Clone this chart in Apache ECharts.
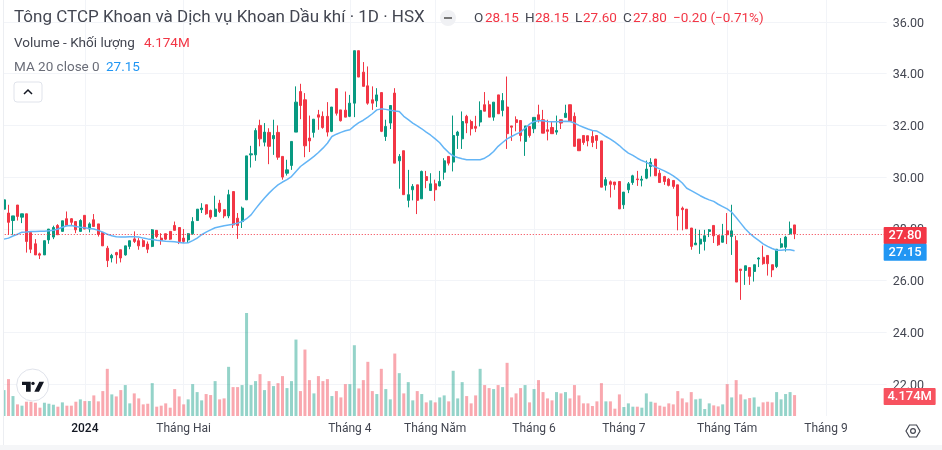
<!DOCTYPE html>
<html>
<head>
<meta charset="utf-8">
<title>PVD</title>
<script src="https://cdn.jsdelivr.net/npm/echarts@6/dist/echarts.min.js"></script>
<style>
  html, body { margin: 0; padding: 0; background: #fff; }
  #main { width: 942px; height: 450px; }
</style>
</head>
<body>
<div id="main"></div>
<script>
// gia doc tu hinh, moi hang 10 phien
var openVals = [
  28.76,28.61,28.32,28.92,28.45,28.58,27.86,27.42,27.03,26.99,
  27.57,27.68,28.13,27.90,28.39,28.39,28.28,27.90,28.52,27.99,
  28.35,28.19,27.86,27.25,26.87,27.08,27.19,26.99,27.32,27.61,
  27.54,27.54,27.41,27.32,27.94,27.64,27.81,27.90,28.13,28.05,
  27.64,27.57,27.81,28.32,28.74,28.93,28.71,28.48,28.99,28.74,
  28.50,29.44,28.41,28.28,29.12,30.86,30.86,32.00,31.35,31.73,
  31.48,31.73,30.80,30.15,30.45,31.74,33.31,32.99,31.51,31.73,
  32.41,32.35,32.35,31.77,33.42,32.60,32.59,32.35,32.86,34.89,
  34.06,33.53,32.99,32.95,33.27,31.57,32.09,33.25,30.63,31.02,
  29.10,29.51,29.70,29.16,30.02,29.48,29.74,29.66,30.19,30.80,
  30.58,31.61,31.48,32.35,32.15,31.96,32.13,32.80,32.80,32.32,
  33.18,32.58,32.71,31.98,32.22,32.19,31.38,31.96,31.87,32.41,
  32.22,31.83,31.92,31.74,32.22,32.31,32.80,32.35,31.47,31.61,
  31.60,31.57,31.61,31.40,29.68,29.82,29.81,29.83,28.93,29.51,
  29.79,29.93,29.88,29.96,30.41,30.70,30.15,30.02,29.92,29.87,
  29.70,28.80,28.76,28.03,27.38,27.41,27.51,27.90,28.13,27.74,
  27.48,27.92,27.70,27.54,26.44,26.39,26.50,26.35,26.83,26.90,
  26.97,26.61,26.54,27.29,27.29,27.81,28.15
];
var closeVals = [
  29.12,28.25,28.50,28.48,28.58,27.51,27.21,26.99,26.98,27.54,
  27.99,28.05,27.77,28.31,28.12,28.25,27.96,28.32,27.99,28.19,
  28.09,27.78,27.34,26.77,26.97,26.99,26.87,27.34,27.54,27.51,
  27.34,27.32,27.21,27.96,27.70,27.55,27.60,27.60,27.94,27.51,
  27.51,27.81,28.28,28.76,28.80,28.58,28.45,28.76,28.67,28.50,
  29.32,28.15,28.13,28.80,30.82,30.90,31.80,31.48,31.74,31.19,
  31.61,30.77,30.00,30.28,31.38,32.90,32.77,31.21,31.40,32.24,
  32.32,31.92,31.74,32.71,32.47,32.18,32.32,32.86,34.89,33.87,
  33.51,32.86,32.86,33.18,31.77,31.96,32.77,30.54,30.80,29.32,
  29.32,29.64,29.10,30.22,29.87,29.74,29.51,29.83,30.63,30.54,
  31.61,31.74,32.15,32.09,31.87,31.89,32.58,32.55,32.32,32.90,
  32.45,32.96,31.68,31.93,32.11,31.61,31.98,31.61,32.31,32.22,
  31.70,31.77,31.68,31.80,32.09,32.47,32.15,31.19,31.02,31.34,
  31.40,31.34,31.42,29.61,29.90,29.72,29.70,28.77,29.42,29.74,
  30.05,29.90,29.92,30.31,30.57,30.05,29.79,29.83,29.68,29.64,
  28.50,28.74,28.00,27.32,27.45,27.60,27.73,27.96,27.73,27.38,
  27.73,27.77,27.92,25.94,26.39,26.57,26.16,26.61,26.87,26.65,
  26.65,26.41,27.21,27.42,27.68,28.00,27.80
];
var lowVals = [
  28.70,27.77,27.77,28.32,28.22,27.08,27.06,26.99,26.83,26.99,
  27.42,27.60,27.77,27.90,28.12,28.12,27.83,27.90,27.99,27.86,
  28.09,27.70,27.34,26.52,26.70,26.65,26.70,26.96,27.21,27.45,
  27.19,27.29,27.06,27.29,27.64,27.38,27.57,27.57,27.94,27.41,
  27.45,27.45,27.77,28.32,28.61,28.54,28.37,28.48,28.61,28.41,
  28.41,28.03,27.61,28.03,29.12,30.37,30.63,31.19,31.19,30.50,
  30.86,30.67,29.90,30.06,30.28,31.74,32.24,30.77,30.97,31.53,
  31.83,31.87,31.57,31.74,32.38,32.15,32.32,32.32,32.32,33.87,
  33.51,32.80,32.60,32.71,31.74,31.40,31.86,30.54,29.55,29.32,
  28.83,29.10,28.57,29.16,29.57,29.48,29.08,29.64,29.90,30.45,
  30.22,31.09,31.09,31.70,31.61,31.74,31.96,32.55,32.32,32.18,
  32.45,32.35,31.09,31.40,31.77,31.38,30.82,31.53,31.70,32.11,
  31.70,31.42,31.68,31.64,31.86,32.31,32.15,31.19,31.02,31.25,
  31.19,31.16,31.09,29.61,29.48,29.21,29.51,28.77,28.77,29.38,
  29.70,29.66,29.64,29.92,30.02,30.05,29.79,29.70,29.64,29.55,
  27.94,27.94,28.00,27.19,27.38,27.03,27.16,27.68,27.45,27.34,
  27.47,27.41,26.99,25.94,25.25,25.83,25.83,25.96,26.52,26.61,
  26.19,26.13,26.48,27.25,27.12,27.77,27.60
];
var highVals = [
  29.15,28.93,28.50,28.92,28.58,28.58,27.86,27.60,27.08,27.54,
  27.99,28.12,28.18,28.31,28.67,28.41,28.28,28.37,28.52,28.25,
  28.57,28.19,27.86,27.34,27.03,27.11,27.19,27.34,27.54,27.90,
  27.64,27.60,27.51,27.99,27.94,27.83,27.81,27.90,28.28,28.05,
  27.99,27.83,28.45,28.76,28.99,28.93,28.74,29.28,29.12,28.74,
  29.51,29.44,28.61,28.86,30.82,31.21,31.89,32.22,32.09,31.89,
  32.22,32.00,30.80,30.67,31.38,33.51,33.61,33.25,32.38,32.24,
  32.60,32.54,32.90,32.71,33.42,32.60,33.31,33.18,34.89,34.89,
  34.45,34.28,33.51,33.44,33.27,32.22,32.77,33.44,30.89,31.02,
  30.28,29.73,29.70,30.25,30.24,30.15,29.90,30.24,30.73,30.80,
  32.38,31.79,32.54,32.41,32.22,32.37,32.93,33.29,32.96,32.90,
  33.18,33.25,33.89,31.98,32.35,32.19,31.98,31.98,32.31,32.80,
  32.60,32.22,32.15,32.38,32.22,32.80,32.80,32.50,31.47,31.61,
  31.60,31.79,31.61,31.40,30.00,29.87,29.81,29.83,29.42,29.81,
  30.09,30.24,30.05,30.64,30.73,30.70,30.28,30.05,29.96,29.87,
  29.70,28.86,28.76,28.03,28.00,27.96,27.96,27.99,28.13,27.74,
  28.19,28.61,28.93,27.73,26.44,26.57,26.50,26.61,26.90,27.35,
  26.97,26.61,27.21,27.64,27.73,28.28,28.15
];
// khoi luong, trieu cp
var volumes = [
  5.17,7.36,3.98,2.32,2.06,2.85,2.85,2.65,1.66,2.65,
  2.45,2.25,1.86,2.72,2.06,2.06,2.85,3.32,2.98,2.98,
  4.11,2.92,4.97,9.41,4.31,3.91,5.17,6.17,2.52,4.51,
  3.51,2.32,2.45,6.56,1.86,2.06,2.52,1.66,5.37,3.91,
  2.32,3.32,6.36,4.77,3.12,4.38,4.18,6.96,3.32,3.51,
  9.81,5.77,5.77,6.17,20.55,6.17,6.96,8.35,5.17,6.96,
  5.97,6.56,7.96,5.57,6.96,15.25,4.97,13.26,7.16,4.51,
  7.96,6.96,7.36,3.98,4.97,3.71,6.36,6.36,14.12,5.50,
  7.16,10.81,4.97,4.38,9.41,5.37,3.32,12.46,8.55,4.51,
  6.76,3.12,4.97,4.38,2.72,3.12,2.72,3.71,4.11,2.92,
  9.02,3.51,6.76,3.98,2.52,4.11,9.41,6.17,5.57,5.37,
  6.17,5.77,10.61,3.71,4.51,5.57,6.17,2.72,5.37,7.16,
  4.77,3.51,3.12,4.77,4.51,4.77,3.51,6.17,4.11,2.52,
  2.52,1.99,2.92,6.56,2.92,2.92,1.46,4.31,1.79,2.52,
  1.86,1.86,1.66,4.51,2.85,2.65,2.06,1.86,2.52,2.32,
  4.97,3.51,2.72,4.77,3.32,3.45,1.39,2.52,2.12,1.92,
  2.32,6.36,3.71,7.16,4.31,3.32,3.58,3.71,1.86,2.72,
  2.85,2.72,4.77,3.32,4.38,4.77,4.174
];
// MA 20
var maValues = [
  27.60,27.64,27.72,27.79,27.87,27.88,27.90,27.90,27.91,27.91,
  27.92,27.94,27.99,28.06,28.12,28.13,28.09,28.06,28.04,28.01,
  27.99,27.94,27.87,27.79,27.73,27.69,27.68,27.68,27.69,27.69,
  27.68,27.64,27.61,27.59,27.56,27.54,27.52,27.51,27.50,27.47,
  27.45,27.46,27.54,27.64,27.77,27.87,27.96,28.04,28.08,28.12,
  28.15,28.18,28.22,28.28,28.39,28.54,28.77,28.99,29.19,29.38,
  29.55,29.70,29.81,29.90,30.02,30.22,30.41,30.54,30.67,30.80,
  30.95,31.12,31.31,31.57,31.66,31.73,31.79,31.83,31.98,32.11,
  32.20,32.32,32.45,32.60,32.64,32.62,32.59,32.56,32.54,32.35,
  32.22,32.09,31.98,31.87,31.74,31.62,31.48,31.33,31.12,30.95,
  30.82,30.76,30.71,30.67,30.67,30.67,30.67,30.73,30.84,30.99,
  31.19,31.34,31.48,31.57,31.66,31.74,31.89,32.05,32.15,32.18,
  32.18,32.15,32.14,32.14,32.15,32.16,32.15,32.09,32.00,31.93,
  31.86,31.80,31.78,31.68,31.57,31.47,31.35,31.22,31.06,30.93,
  30.84,30.73,30.64,30.57,30.48,30.39,30.32,30.24,30.15,30.05,
  29.92,29.77,29.57,29.48,29.38,29.28,29.19,29.12,29.06,28.95,
  28.86,28.77,28.64,28.44,28.22,28.00,27.83,27.68,27.55,27.42,
  27.32,27.24,27.17,27.17,27.19,27.19,27.15
];
// nhan truc thoi gian
var tickIndex = [18, 40, 77, 96, 118, 138, 161, 183];
var tickLabels = ['2024', 'Tháng Hai', 'Tháng 4', 'Tháng Năm', 'Tháng 6', 'Tháng 7', 'Tháng Tám', 'Tháng 9'];
var priceNow = 27.80, maNow = 27.15, volNow = 4.174;

var FONT = 'Roboto, "Liberation Sans", sans-serif';
var UP = '#089981', DOWN = '#F23645', BLUE = '#2196F3', GRID = '#f2f4f8', TEXT = '#434651';
var slotCount = 197;

var categories = [];
for (var i = 0; i < slotCount; i++) categories.push(i);

var candleData = openVals.map(function (o, i) {
    return [o, closeVals[i], lowVals[i], highVals[i]];
});
var volumeData = volumes.map(function (v, i) {
    return {
        value: v,
        itemStyle: { color: closeVals[i] >= openVals[i] ? 'rgba(8,153,129,0.43)' : 'rgba(242,54,69,0.43)' }
    };
});

// nhan gia o mep phai, canh giua nen distance tinh tu tam nhan
function tag(color, width) {
    return {
        show: true, position: 'end', distance: width / 2 - 3, offset: [0, 1.5],
        formatter: '{b}', color: '#fff', fontFamily: FONT, fontSize: 13, fontWeight: 500,
        backgroundColor: color, width: width, height: 17, lineHeight: 17,
        align: 'center', verticalAlign: 'middle',
        borderRadius: 1
    };
}

function txt(x, y, text, fill, size) {
    return {
        type: 'text', z: 100, x: x, y: y,
        style: { text: text, fill: fill, font: (size || 13.5) + 'px ' + FONT, textVerticalAlign: 'middle' }
    };
}

var myChart = echarts.init(document.getElementById('main'));
var option = {
    animation: false,
    backgroundColor: '#fff',
    grid: [
        // 25.85 px moi dong, 36.00 nam o y=22
        { left: 1.75, width: 884.9, top: -29.7, height: 465.3, outerBoundsMode: 'none' },
        { left: 1.75, width: 884.9, top: 0, height: 416, outerBoundsMode: 'none' }
    ],
    xAxis: [
        {
            type: 'category', gridIndex: 0, data: categories,
            axisLine: { show: false }, axisTick: { show: false }, axisLabel: { show: false }, splitLine: { show: false }
        },
        {
            type: 'category', gridIndex: 1, data: categories,
            axisLine: { show: false }, axisTick: { show: false },
            splitLine: {
                show: true, alignWithLabel: true,
                interval: function (idx) { return tickIndex.indexOf(idx) >= 0; },
                lineStyle: { color: GRID, width: 1 }
            },
            axisLabel: {
                margin: 7, color: TEXT, fontFamily: FONT, fontSize: 12,
                interval: function (idx) { return tickIndex.indexOf(idx) >= 0; },
                formatter: function (v, idx) {
                    var k = tickIndex.indexOf(idx);
                    if (k == 0) return '{y|' + tickLabels[k] + '}';
                    return k >= 0 ? tickLabels[k] : '';
                },
                rich: { y: { color: '#131722', fontWeight: 500, fontFamily: FONT, fontSize: 12 } }
            }
        }
    ],
    yAxis: [
        {
            type: 'value', gridIndex: 0, position: 'right', min: 20, max: 38, interval: 2,
            axisLine: { show: false }, axisTick: { show: false },
            splitLine: { show: true, showMinLine: false, showMaxLine: false, lineStyle: { color: GRID, width: 1 } },
            axisLabel: {
                margin: 6,
                showMinLabel: false, showMaxLabel: false,
                formatter: function (v) { return '{p|' + v.toFixed(2) + '}'; },
                rich: { p: { color: TEXT, fontFamily: FONT, fontSize: 12.5, padding: [3, 0, 0, 0] } }
            }
        },
        {
            type: 'value', gridIndex: 1, position: 'right', min: 0, max: 83,
            axisLine: { show: false }, axisTick: { show: false }, axisLabel: { show: false }, splitLine: { show: false }
        }
    ],
    series: [
        {
            name: 'Volume', type: 'bar', xAxisIndex: 1, yAxisIndex: 1, data: volumeData, barWidth: 3, silent: true,
            markLine: {
                silent: true, symbol: 'none', lineStyle: { color: 'transparent' },
                label: tag('#F7525F', 52),
                data: [{ yAxis: volNow, name: '4.174M' }]
            }
        },
        {
            name: 'PVD', type: 'candlestick', xAxisIndex: 0, yAxisIndex: 0, data: candleData, barWidth: 2.6, silent: true,
            itemStyle: { color: UP, color0: DOWN, borderColor: UP, borderColor0: DOWN, borderWidth: 1 },
            markLine: {
                silent: true, symbol: 'none',
                lineStyle: { color: DOWN, type: [1, 2], width: 1 },
                label: tag(DOWN, 43),
                data: [{ yAxis: priceNow, name: '27.80' }]
            }
        },
        {
            name: 'MA 20', type: 'line', xAxisIndex: 0, yAxisIndex: 0, data: maValues, showSymbol: false, silent: true,
            lineStyle: { color: '#64B5F6', width: 1.5 },
            markLine: {
                silent: true, symbol: 'none', lineStyle: { color: 'transparent' },
                label: tag(BLUE, 43),
                data: [{ yAxis: maNow, name: '27.15' }]
            }
        }
    ],
    graphic: [
        { type: 'rect', z: 90, shape: { x: 0, y: 0, width: 3, height: 450 }, style: { fill: '#fff' } },
        { type: 'rect', z: 90, shape: { x: 3, y: 0, width: 1, height: 446 }, style: { fill: '#eceef2' } },
        { type: 'rect', z: 90, shape: { x: 0, y: 445, width: 942, height: 5 }, style: { fill: '#f5f6f8' } },
        txt(14, 18, 'Tông CTCP Khoan và Dịch vụ Khoan Dầu khí · 1D · HSX', TEXT, 17),
        txt(14, 43.5, 'Volume - Khối lượng', TEXT),
        txt(144, 43.5, '4.174M', DOWN),
        txt(14, 68, 'MA 20 close 0', '#6a6d78'),
        txt(106, 68, '27.15', BLUE),
        // nut thu gon
        { type: 'rect', z: 100, shape: { x: 14, y: 82, width: 28, height: 20, r: 3 }, style: { fill: '#fff', stroke: '#e0e3eb' } },
        { type: 'polyline', z: 101, shape: { points: [[24, 94], [28, 90], [32, 94]] }, style: { stroke: '#131722', lineWidth: 1.5, fill: 'none' } },
        // nut tron tren dong OHLC
        { type: 'circle', z: 100, shape: { cx: 448, cy: 18, r: 8 }, style: { fill: '#f0f1f4' } },
        { type: 'rect', z: 101, shape: { x: 444, y: 17, width: 8, height: 2 }, style: { fill: '#777' } },
        txt(474, 18.5, 'O', TEXT), txt(485, 18.5, '28.15', DOWN),
        txt(525, 18.5, 'H', TEXT), txt(535, 18.5, '28.15', DOWN),
        txt(575, 18.5, 'L', TEXT), txt(583, 18.5, '27.60', DOWN),
        txt(623, 18.5, 'C', TEXT), txt(633, 18.5, '27.80', DOWN),
        txt(673, 18.5, '−0.20 (−0.71%)', DOWN),
        // logo
        { type: 'circle', z: 100, shape: { cx: 32.7, cy: 385, r: 16 }, style: { fill: '#fff', stroke: '#e0e3eb' } },
        { type: 'polygon', z: 101, shape: { points: [[22, 381.7], [30.7, 381.7], [30.7, 391.7], [26, 391.7], [26, 385], [22, 385]] }, style: { fill: '#131722' } },
        { type: 'circle', z: 101, shape: { cx: 33, cy: 383.4, r: 1.7 }, style: { fill: '#131722' } },
        { type: 'polygon', z: 101, shape: { points: [[34.3, 391.7], [39.3, 381.7], [44, 381.7], [39, 391.7]] }, style: { fill: '#131722' } },
        // nut cai dat
        {
            type: 'polygon', z: 100,
            shape: { points: [[906, 431], [909.5, 425], [916.5, 425], [920, 431], [916.5, 437], [909.5, 437]] },
            style: { fill: 'none', stroke: '#434651', lineWidth: 1.2 }
        },
        { type: 'circle', z: 100, shape: { cx: 913, cy: 431, r: 2.4 }, style: { fill: 'none', stroke: '#434651', lineWidth: 1.2 } }
    ]
};
myChart.setOption(option);
</script>
</body>
</html>
